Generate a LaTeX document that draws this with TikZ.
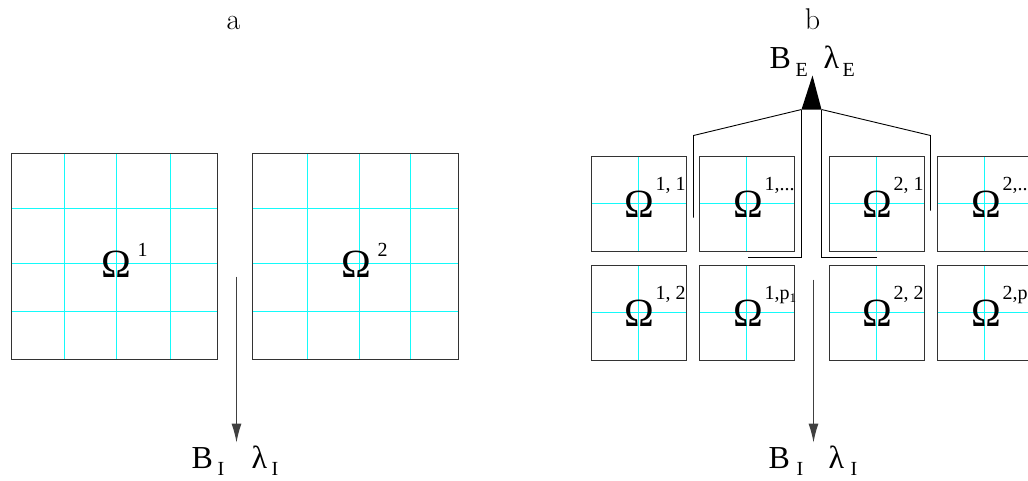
\documentclass[tikz,border=0pt]{standalone}
\usepackage{fontspec}
\newfontfamily\tnr{Liberation Serif}
\usetikzlibrary{arrows.meta}
\definecolor{cy}{RGB}{20,250,250}
\begin{document}
\begin{tikzpicture}[x=1pt,y=-1pt,
  bigbox/.style={draw=black!80,line width=1pt,minimum width=206pt,minimum height=206pt,inner sep=0pt,outer sep=0pt},
  smallbox/.style={draw=black!80,line width=1pt,minimum width=95pt,minimum height=95pt,inner sep=0pt,outer sep=0pt},
  gridline/.style={draw=cy,line width=1.5pt},
  wire/.style={draw=black,line width=0.9pt},
  arr/.style={draw=black!75,line width=1pt,-{Latex[length=19pt,width=10pt]}},
  om/.style={font=\tnr\fontsize{40}{40}\selectfont,inner sep=0pt,anchor=base west},
  supt/.style={font=\tnr\fontsize{20}{20}\selectfont,inner sep=0pt,anchor=base west},
  big/.style={font=\tnr\fontsize{32}{32}\selectfont,inner sep=0pt,anchor=base west},
  panel/.style={font=\fontsize{30}{30}\selectfont,inner sep=0pt,anchor=base}
]
\useasboundingbox (0,0) rectangle (1028,480);
\begin{scope}[shift={(0.5,0.5)}]
% panel titles
\node[panel] (ta) at (233,29) {a};
\node[panel] (tb) at (812,29) {b};

% ---------- panel a ----------
\foreach \x in {64,116,170,307,359,410} \draw[gridline] (\x,153) -- (\x,359);
\foreach \y in {208,263,311} {\draw[gridline] (11,\y) -- (217,\y); \draw[gridline] (252,\y) -- (458,\y);}
\node[bigbox] (A1) at (114,256) {};
\node[bigbox] (A2) at (355,256) {};
\node[om] (oA1) at (101,277) {Ω};
\node[supt] (sA1) at (137,256) {1};
\node[om] (oA2) at (341,277) {Ω};
\node[supt] (sA2) at (377,256) {2};

\coordinate (aTop) at (236,276);
\coordinate (aTip) at (236,442);
\draw[arr] (aTop) -- (aTip);
\node[big] (aB) at (191,468) {B};
\node[supt] (aBI) at (217,475) {I};
\node[big] (aL) at (251,468) {λ};
\node[supt] (aLI) at (271,475) {I};

% ---------- panel b ----------
\foreach \cx in {638,746,876,984} {
  \draw[gridline] (\cx,156) -- (\cx,251);
  \draw[gridline] (\cx,265) -- (\cx,360);
  \draw[gridline] (\cx-47,203) -- (\cx+48,203);
  \draw[gridline] (\cx-47,312) -- (\cx+48,312);
}
\node[smallbox] (B11) at (638.5,203.5) {};
\node[smallbox] (B1d) at (746.5,203.5) {};
\node[smallbox] (B21) at (876.5,203.5) {};
\node[smallbox] (B2d) at (984.5,203.5) {};
\node[smallbox] (B12) at (638.5,312.5) {};
\node[smallbox] (B1p) at (746.5,312.5) {};
\node[smallbox] (B22) at (876.5,312.5) {};
\node[smallbox] (B2p) at (984.5,312.5) {};

\node[om] (o11) at (624,217) {Ω};
\node[supt] (s11) at (655,190) {1, 1};
\node[om] (o1d) at (733,217) {Ω};
\node[supt] (s1d) at (764,190) {1,...};
\node[om] (o21) at (862,217) {Ω};
\node[supt] (s21) at (893,190) {2, 1};
\node[om] (o2d) at (971,217) {Ω};
\node[supt] (s2d) at (1002,190) {2,...};
\node[om] (o12) at (624,326) {Ω};
\node[supt] (s12) at (655,299) {1, 2};
\node[om] (o1p) at (733,326) {Ω};
\node[supt] (s1p) at (764,299) {1,p\raisebox{-3pt}{\fontsize{13}{13}\selectfont 1}};
\node[om] (o22) at (862,326) {Ω};
\node[supt] (s22) at (893,299) {2, 2};
\node[om] (o2p) at (971,326) {Ω};
\node[supt] (s2p) at (1002,299) {2,p\raisebox{-3pt}{\fontsize{13}{13}\selectfont 2}};

% exchange structure
\coordinate (tipE) at (812,75);
\coordinate (bl) at (801,109);
\coordinate (br) at (821,109);
\coordinate (lk) at (693,135);
\coordinate (lend) at (693,217);
\coordinate (rk) at (930,135);
\coordinate (rend) at (930,210);
\coordinate (cl) at (801,257);
\coordinate (clend) at (747,257);
\coordinate (cr) at (821,257);
\coordinate (crend) at (876,257);
\fill[black] (bl) -- (tipE) -- (br) -- cycle;
\draw[wire] (lend) -- (lk) -- (bl);
\draw[wire] (br) -- (rk) -- (rend);
\draw[wire] (bl) -- (cl) -- (clend);
\draw[wire] (br) -- (cr) -- (crend);

\node[big] (eB) at (769,68) {B};
\node[supt] (eBE) at (795,76) {E};
\node[big] (eL) at (823,68) {λ};
\node[supt] (eLE) at (842,76) {E};

\coordinate (bTop) at (813,279);
\coordinate (bTip) at (813,442);
\draw[arr] (bTop) -- (bTip);
\node[big] (bB) at (768,468) {B};
\node[supt] (bBI) at (796,475) {I};
\node[big] (bL) at (828,468) {λ};
\node[supt] (bLI) at (850,475) {I};
\end{scope}
\end{tikzpicture}
\end{document}
